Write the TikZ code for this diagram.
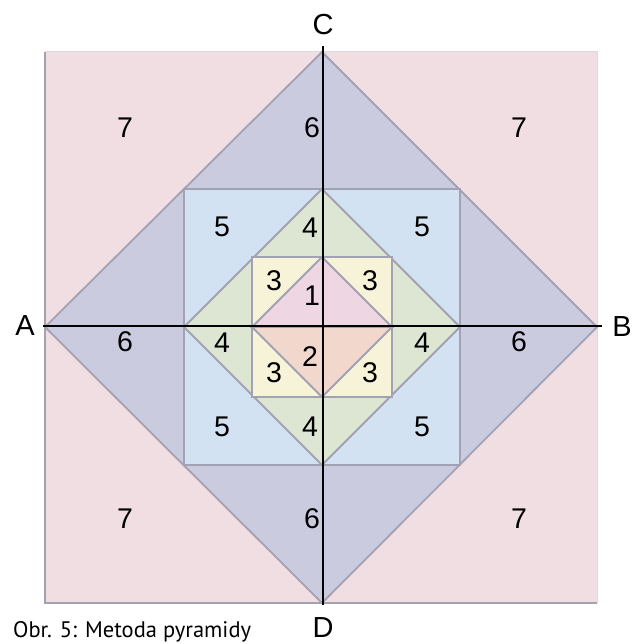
\documentclass[tikz,border=0pt]{standalone}
\usepackage{fontspec}
\setmainfont{Liberation Sans}
\newfontfamily\capfont{PT Sans}
\definecolor{bgpink}{HTML}{F1DEE2}
\definecolor{lav}{HTML}{CBCBE0}
\definecolor{lblue}{HTML}{D3E2F2}
\definecolor{lgreen}{HTML}{DCE6D2}
\definecolor{lyellow}{HTML}{F6F3D9}
\definecolor{pinkone}{HTML}{EED6E2}
\definecolor{peachtwo}{HTML}{F2D8CC}
\definecolor{edgegray}{HTML}{A2A2B2}
\tikzset{
  tile/.style={draw=edgegray, line width=1.8bp, line join=miter},
  num/.style={font=\fontsize{28.5bp}{32bp}\selectfont, inner sep=0pt},
  pt/.style={font=\fontsize{29bp}{33bp}\selectfont, inner sep=0pt},
  axis/.style={draw=black, line width=1.3bp}
}
\begin{document}
\begin{tikzpicture}[x=1bp,y=-1bp]
\useasboundingbox (0,0) rectangle (634,644);
% outer square
\fill[bgpink] (45,52) rectangle (597,603);
\draw[edgegray, line width=2.5bp] (45,52) -- (45,603) -- (597,603);
\draw[edgegray!40, line width=1bp] (45,52) -- (597,52) -- (597,603);
% diamond 6
\filldraw[tile, fill=lav] (322,52) -- (597,327) -- (322,603) -- (45,327) -- cycle;
% blue square 5
\filldraw[tile, fill=lblue] (184,189) rectangle (460,465);
% green diamond 4
\filldraw[tile, fill=lgreen] (322,189) -- (460,327) -- (322,465) -- (184,327) -- cycle;
% yellow square 3
\filldraw[tile, fill=lyellow] (252,257) rectangle (392,397);
% inner diamond 1 / 2
\filldraw[tile, fill=pinkone] (252,327) -- (322,257) -- (392,327) -- cycle;
\filldraw[tile, fill=peachtwo] (252,327) -- (322,397) -- (392,327) -- cycle;
% axes
\coordinate (Ctop) at (323,46);
\coordinate (Dbot) at (323,605);
\coordinate (Aleft) at (43,326);
\coordinate (Bright) at (602,326);
\draw[axis] (Ctop) -- (Dbot);
\draw[axis] (Aleft) -- (Bright);
% point labels
\node[pt] (A) at (25,326) {A};
\node[pt] (B) at (622,327) {B};
\node[pt] (C) at (323,25) {C};
\node[pt] (D) at (323,628) {D};
% numbers
\node[num] (n7a) at (125,128) {7};
\node[num] (n7b) at (519,128) {7};
\node[num] (n7c) at (125,519) {7};
\node[num] (n7d) at (519,519) {7};
\node[num] (n6a) at (312,128) {6};
\node[num] (n6b) at (125,342) {6};
\node[num] (n6c) at (519,342) {6};
\node[num] (n6d) at (312,519) {6};
\node[num] (n5a) at (222,227) {5};
\node[num] (n5b) at (422,227) {5};
\node[num] (n5c) at (222,427) {5};
\node[num] (n5d) at (422,427) {5};
\node[num] (n4a) at (310,228) {4};
\node[num] (n4b) at (222,343) {4};
\node[num] (n4c) at (422,343) {4};
\node[num] (n4d) at (310,427) {4};
\node[num] (n3a) at (274,281) {3};
\node[num] (n3b) at (370,281) {3};
\node[num] (n3c) at (274,373) {3};
\node[num] (n3d) at (370,373) {3};
\node[num] (n1) at (312,296) {1};
\node[num] (n2) at (310,357) {2};
% caption
\node[anchor=base west, inner sep=0pt, font=\capfont\fontsize{22.5bp}{26bp}\selectfont] (cap) at (13,637) {Obr. 5: Metoda pyramidy};
\end{tikzpicture}
\end{document}
